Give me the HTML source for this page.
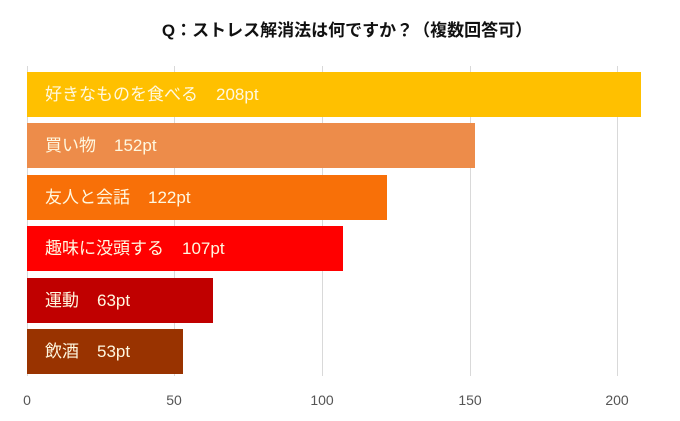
<!DOCTYPE html>
<html><head><meta charset="utf-8"><style>
body{margin:0;background:#fff;width:680px;height:421px;overflow:hidden;position:relative;font-family:"Liberation Sans","Noto Sans CJK JP",sans-serif}
.t{position:absolute;top:16px;left:0;width:694px;text-align:center;font-size:17px;font-weight:bold;color:#111}
.g{position:absolute;top:66px;height:310px;width:1px;background:#d9d9d9}
.b{position:absolute;left:27px;height:45px;color:#fff8e0;font-size:17px;line-height:45px;padding-left:18px;box-sizing:border-box;white-space:nowrap}
.b span{margin-left:18px;font-family:"Liberation Sans Narrow","Liberation Sans",sans-serif}
.x{position:absolute;top:392px;font-size:14px;color:#555;width:40px;margin-left:-20px;text-align:center}
</style></head><body>
<div class="t">Q：ストレス解消法は何ですか？（複数回答可）</div>
<div class="g" style="left:27px"></div><div class="g" style="left:174px"></div><div class="g" style="left:322px"></div><div class="g" style="left:470px"></div><div class="g" style="left:617px"></div>
<div class="b" style="top:72px;width:614px;background:#FFC000">好きなものを食べる<span>208pt</span></div>
<div class="b" style="top:123px;width:448px;background:#ED8C4A">買い物<span>152pt</span></div>
<div class="b" style="top:175px;width:360px;background:#F87008">友人と会話<span>122pt</span></div>
<div class="b" style="top:226px;width:316px;background:#FF0000">趣味に没頭する<span>107pt</span></div>
<div class="b" style="top:278px;width:186px;background:#C00000">運動<span>63pt</span></div>
<div class="b" style="top:329px;width:156px;background:#993300">飲酒<span>53pt</span></div>
<div class="x" style="left:27px">0</div><div class="x" style="left:174px">50</div><div class="x" style="left:322px">100</div><div class="x" style="left:470px">150</div><div class="x" style="left:617px">200</div>
</body></html>
